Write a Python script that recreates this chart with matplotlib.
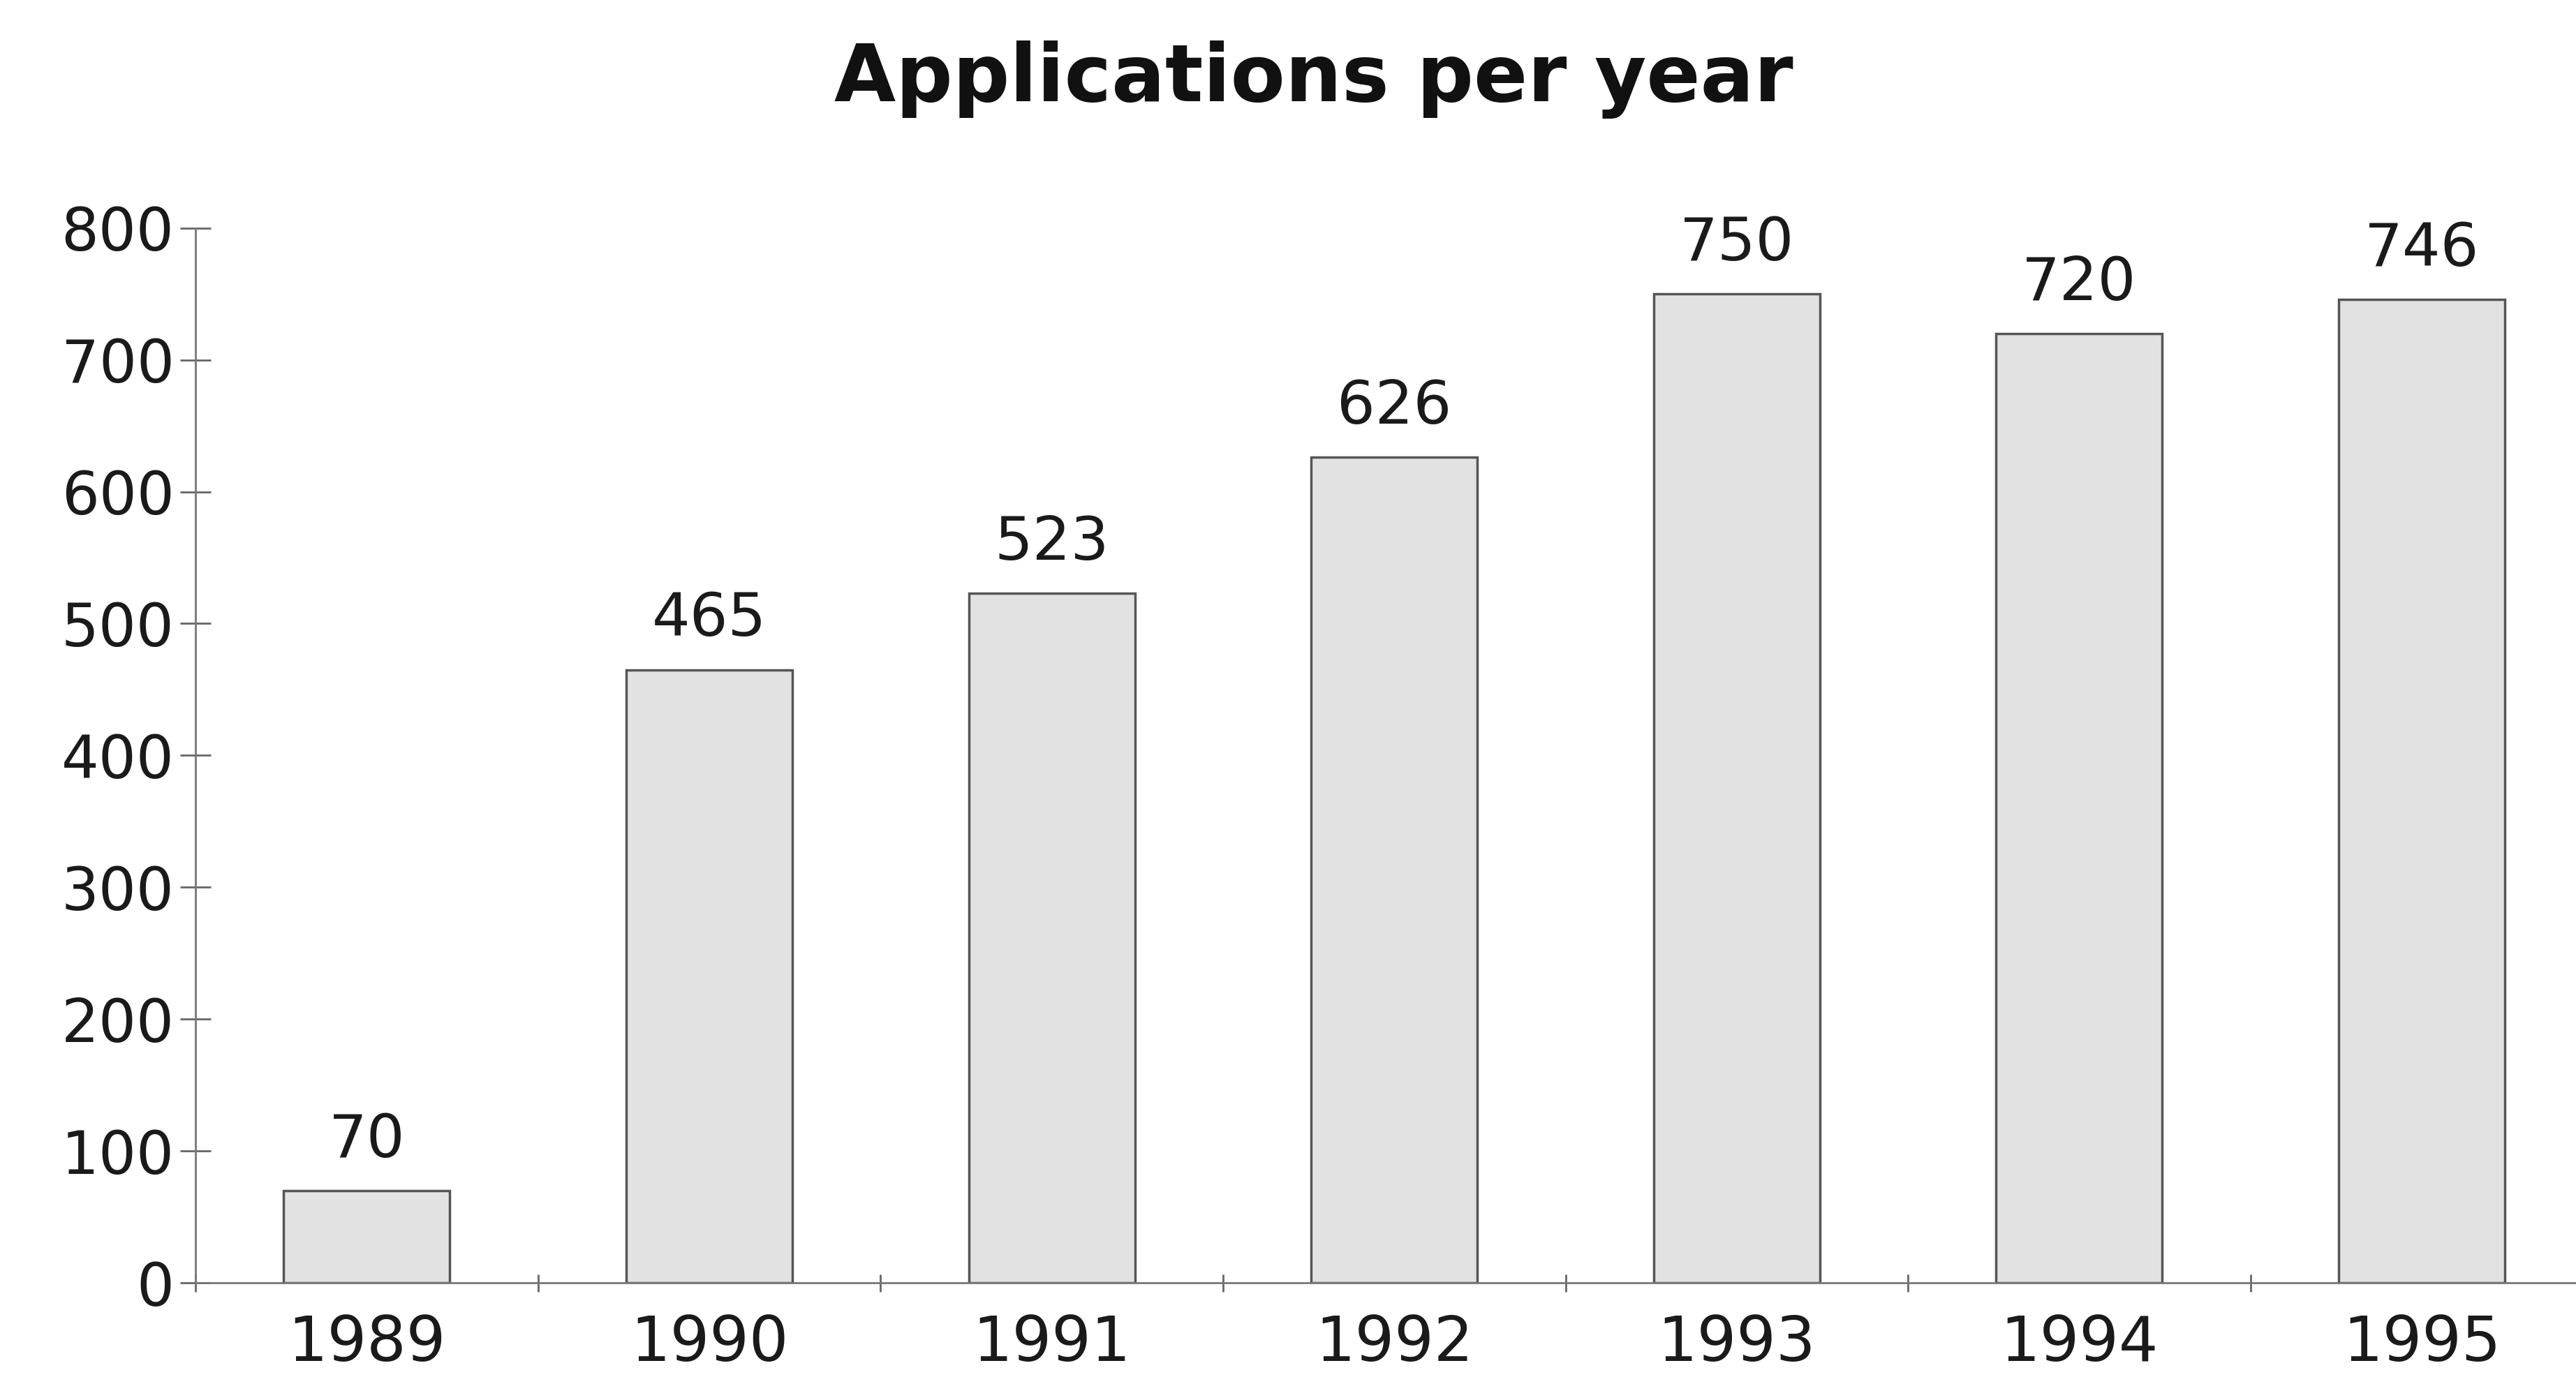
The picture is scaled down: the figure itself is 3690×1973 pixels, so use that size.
import matplotlib
matplotlib.use("Agg")
import matplotlib.pyplot as plt

# Data
years = ["1989", "1990", "1991", "1992", "1993", "1994", "1995"]
applications = [70, 465, 523, 626, 750, 720, 746]
yticks = [0, 100, 200, 300, 400, 500, 600, 700, 800]

plt.rcParams['font.family'] = ['DejaVu Sans']

fig = plt.figure(figsize=(36.9, 19.73), dpi=100)
fig.patch.set_facecolor("white")
ax = fig.add_axes([0.0759, 0.0684, 0.9307, 0.766])

x = list(range(len(years)))
bars = ax.bar(x, applications, width=0.485, color="#e2e2e2",
              edgecolor="#555555", linewidth=2.5, zorder=2)

for xi, v in zip(x, applications):
    ax.text(xi, v + 16, str(v), ha="center", va="bottom",
            fontsize=62, color="#1a1a1a")

ax.set_xlim(-0.5, len(years) - 0.5)
ax.set_ylim(0, 800)
ax.set_yticks(yticks)
ax.set_yticklabels([str(t) for t in yticks], fontsize=61, color="#1a1a1a")

# ticks on x axis sit between the categories, labels under the bars
ax.set_xticks([i - 0.5 for i in range(len(years) + 1)])
ax.set_xticklabels([])
ax.set_xticks(x, minor=True)
ax.set_xticklabels(years, minor=True, fontsize=64, color="#1a1a1a")
ax.tick_params(axis="x", which="minor", length=0, pad=32)
ax.tick_params(axis="x", which="major", direction="inout", length=18,
               width=2, color="#666666")
ax.tick_params(axis="y", direction="inout", length=32, width=2,
               color="#666666", pad=6)

for s in ["top", "right"]:
    ax.spines[s].set_visible(False)
for s in ["left", "bottom"]:
    ax.spines[s].set_color("#777777")
    ax.spines[s].set_linewidth(2)
ax.set_facecolor("white")

fig.text(0.51, 0.942, "Applications per year", ha="center", va="center",
         fontsize=82, fontweight="bold", color="#111111")

fig.savefig("out.png", dpi=100, facecolor="white")
